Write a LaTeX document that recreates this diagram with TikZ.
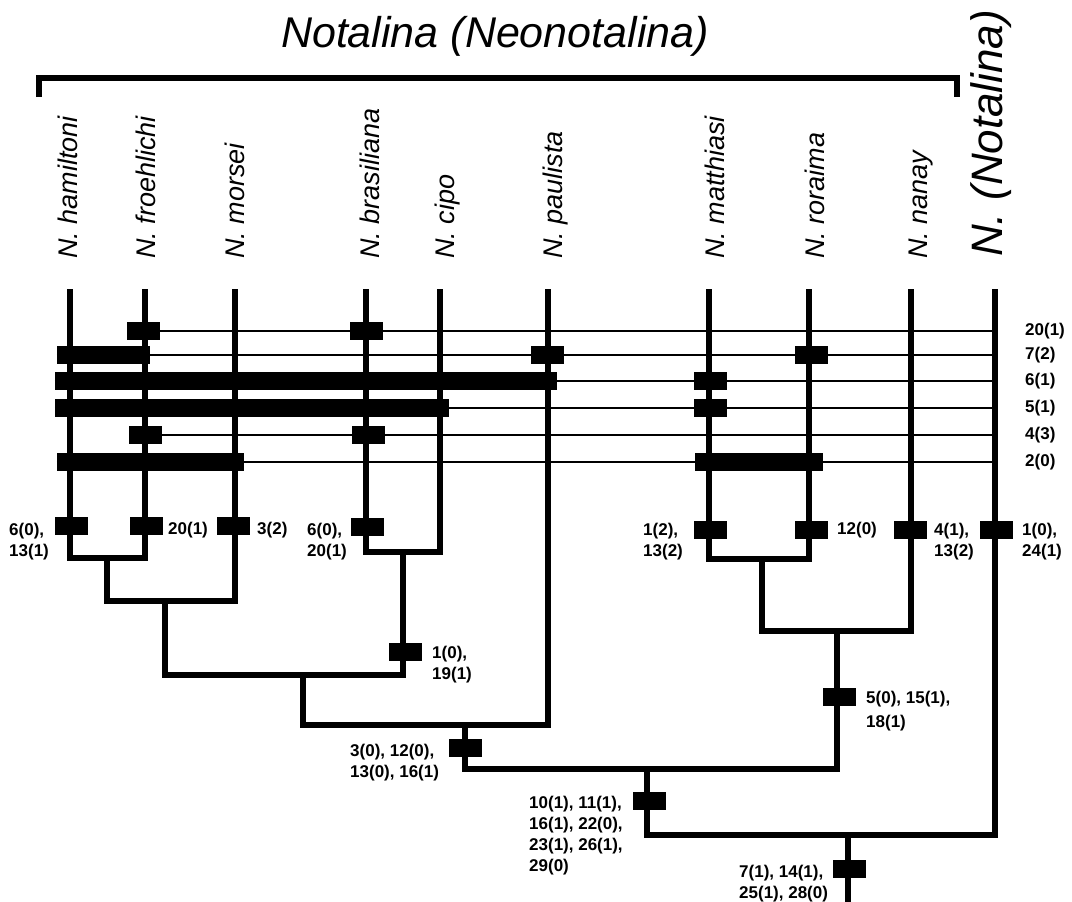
\documentclass[tikz,border=0pt]{standalone}
\usepackage{fontspec}
\setmainfont{Liberation Sans}
\usetikzlibrary{positioning}

\begin{document}
\begin{tikzpicture}[x=1pt,y=-1pt,
    branch/.style={line width=6pt},
    trait/.style={line width=2.5pt},
    syn/.style={rectangle,fill=black,minimum width=33pt,minimum height=18pt,inner sep=0pt},
    bar/.style={syn,minimum width=#1},
    state/.style={font=\bfseries\fontsize{17}{21}\selectfont,align=left,inner sep=0pt},
    taxon/.style={font=\itshape\fontsize{27}{27}\selectfont,rotate=90,anchor=base west,inner sep=0pt}]

    \useasboundingbox (0,0) rectangle (1072,902);

    % title and bracket

    \node[font=\itshape\fontsize{43}{43}\selectfont, anchor=base] (title) at (495,47) {Notalina (Neonotalina)};

    \coordinate (brl) at (39,97);
    \coordinate (brr) at (957,97);
    \draw[line width=6pt] (brl) -- ++(0,-19) -| (brr);

    % taxa

    \node[taxon] (tham) at (77,259) {N. hamiltoni};
    \node[taxon] (tfro) at (155,259) {N. froehlichi};
    \node[taxon] (tmor) at (244,259) {N. morsei};
    \node[taxon] (tbra) at (379,259) {N. brasiliana};
    \node[taxon] (tcip) at (454,259) {N. cipo};
    \node[taxon] (tpau) at (562,259) {N. paulista};
    \node[taxon] (tmat) at (724,259) {N. matthiasi};
    \node[taxon] (tror) at (824,259) {N. roraima};
    \node[taxon] (tnan) at (927,259) {N. nanay};
    \node[taxon, font=\itshape\fontsize{44}{44}\selectfont] (tnot) at (1002,257) {N. (Notalina)};

    \coordinate (ham) at (70,289);
    \coordinate (fro) at (145,289);
    \coordinate (mor) at (235,289);
    \coordinate (bra) at (366,289);
    \coordinate (cip) at (440,289);
    \coordinate (pau) at (548,289);
    \coordinate (mat) at (709,289);
    \coordinate (ror) at (809,289);
    \coordinate (nan) at (911,289);
    \coordinate (not) at (995,289);

    % tree

    \coordinate (n1) at (107,558);
    \coordinate (n2) at (165,601);
    \coordinate (n3) at (403,552);
    \coordinate (n4) at (303,675);
    \coordinate (n5) at (465,725);
    \coordinate (n6) at (762,559);
    \coordinate (n7) at (837,631);
    \coordinate (n8) at (647,769);
    \coordinate (n9) at (848,835);
    \coordinate (root) at (848,902);

    \draw[branch] (ham) |- (n1) -| (fro);
    \draw[branch] (n1) |- (n2) -| (mor);
    \draw[branch] (bra) |- (n3) -| (cip);
    \draw[branch] (n2) |- (n4) -| (n3);
    \draw[branch] (n4) |- (n5) -| (pau);
    \draw[branch] (mat) |- (n6) -| (ror);
    \draw[branch] (n6) |- (n7) -| (nan);
    \draw[branch] (n5) |- (n8) -| (n7);
    \draw[branch] (n8) |- (n9) -| (not);
    \draw[branch] (n9) -- (root);

    % characters across the taxa

    \node[syn] (a20fro) at (143,331) {};
    \node[syn] (a20bra) at (366,331) {};
    \node[bar=93pt] (a7ham) at (103.5,355) {};
    \node[syn] (a7pau) at (547,355) {};
    \node[syn] (a7ror) at (811,355) {};
    \node[bar=502pt] (a6ham) at (306,381) {};
    \node[syn] (a6mat) at (710,381) {};
    \node[bar=394pt] (a5ham) at (252,408) {};
    \node[syn] (a5mat) at (710,408) {};
    \node[syn] (a4fro) at (145,435) {};
    \node[syn] (a4bra) at (368,435) {};
    \node[bar=187pt] (a2ham) at (150.5,462) {};
    \node[bar=128pt] (a2mat) at (759,462) {};

    \coordinate (r20) at (995,331);
    \coordinate (r7) at (995,355);
    \coordinate (r6) at (995,381);
    \coordinate (r5) at (995,408);
    \coordinate (r4) at (995,435);
    \coordinate (r2) at (995,462);

    \draw[trait] (a20fro.center) -- (r20);
    \draw[trait] (a7ham.west) -- (r7);
    \draw[trait] (a6ham.west) -- (r6);
    \draw[trait] (a5ham.west) -- (r5);
    \draw[trait] (a4fro.center) -- (r4);
    \draw[trait] (a2ham.west) -- (r2);

    \node[state, anchor=west] (l20) at (1025,331) {20(1)};
    \node[state, anchor=west] (l7) at (1025,355) {7(2)};
    \node[state, anchor=west] (l6) at (1025,381) {6(1)};
    \node[state, anchor=west] (l5) at (1025,408) {5(1)};
    \node[state, anchor=west] (l4) at (1025,435) {4(3)};
    \node[state, anchor=west] (l2) at (1025,462) {2(0)};

    % changes on the branches

    \node[syn] (bham) at (71,526) {};
    \node[syn] (bfro) at (146,526) {};
    \node[syn] (bmor) at (233,526) {};
    \node[syn] (bbra) at (367,527) {};
    \node[syn] (bn3) at (405,652) {};
    \node[syn] (bmat) at (710,530) {};
    \node[syn] (bror) at (811,530) {};
    \node[syn] (bnan) at (910,530) {};
    \node[syn] (bnot) at (996,530) {};
    \node[syn] (bn7) at (839,697) {};
    \node[syn] (bn5) at (465,748) {};
    \node[syn] (bn8) at (649,801) {};
    \node[syn] (bn9) at (849,869) {};

    \node[state, anchor=west] (lham) at (9,542) {6(0),\\13(1)};
    \node[state, anchor=west] (lfro) at (168,530) {20(1)};
    \node[state, anchor=west] (lmor) at (257,530) {3(2)};
    \node[state, anchor=west] (lbra) at (307,542) {6(0),\\20(1)};
    \node[state, anchor=west] (ln3) at (432,664.5) {1(0),\\19(1)};
    \node[state, anchor=west] (lmat) at (643,542) {1(2),\\13(2)};
    \node[state, anchor=west] (lror) at (837,530) {12(0)};
    \node[state, anchor=west] (lnan) at (934,542) {4(1),\\13(2)};
    \node[state, anchor=west] (lnot) at (1022,542) {1(0),\\24(1)};
    \node[state, anchor=west, font=\bfseries\fontsize{17}{24}\selectfont] (ln7) at (866,711) {5(0), 15(1),\\18(1)};
    \node[state, anchor=west] (ln5) at (350,762.5) {3(0), 12(0),\\13(0), 16(1)};
    \node[state, anchor=west] (ln8) at (529,835.5) {10(1), 11(1),\\16(1), 22(0),\\23(1), 26(1),\\29(0)};
    \node[state, anchor=west] (ln9) at (739,884) {7(1), 14(1),\\25(1), 28(0)};
\end{tikzpicture}
\end{document}
